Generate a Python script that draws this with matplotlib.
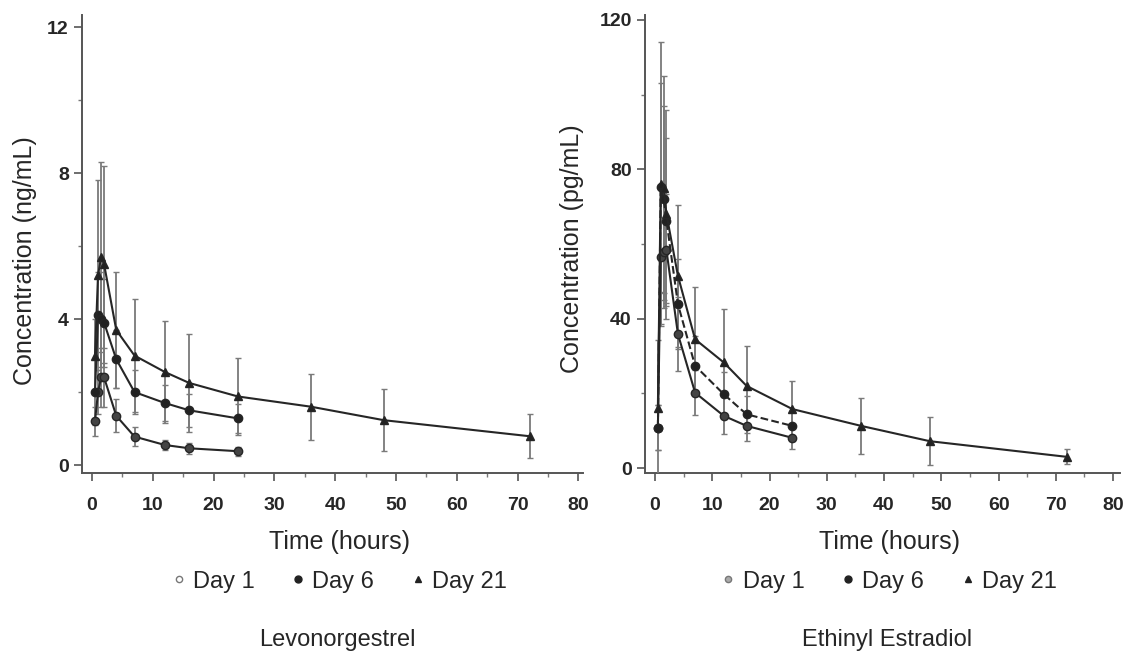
import matplotlib
matplotlib.use("Agg")
import matplotlib.pyplot as plt
from matplotlib.lines import Line2D
from matplotlib.ticker import MultipleLocator

plt.rcParams['font.family'] = ['Liberation Sans', 'DejaVu Sans']

# sampling times (hours)
t_short = [0.5, 1, 1.5, 2, 4, 7, 12, 16, 24]
t_long = [0.5, 1, 1.5, 2, 4, 7, 12, 16, 24, 36, 48, 72]

# Levonorgestrel (ng/mL)
lng_day1 = [1.2, 2.0, 2.4, 2.4, 1.35, 0.78, 0.55, 0.46, 0.38]
lng_day1_sd = [0.4, 0.6, 0.8, 0.8, 0.45, 0.25, 0.15, 0.15, 0.12]
lng_day6 = [2.0, 4.1, 4.0, 3.9, 2.9, 2.0, 1.7, 1.5, 1.28]
lng_day6_sd = [0.9, 1.2, 1.3, 1.2, 0.8, 0.6, 0.5, 0.45, 0.4]
lng_day21 = [3.0, 5.2, 5.7, 5.5, 3.7, 3.0, 2.55, 2.25, 1.88, 1.6, 1.23, 0.79]
lng_day21_sd = [1.0, 2.6, 2.6, 2.7, 1.6, 1.55, 1.4, 1.35, 1.05, 0.9, 0.85, 0.6]

# Ethinyl estradiol (pg/mL)
ee_day1 = [10.8, 56.5, 58.0, 58.3, 35.9, 20.2, 14.0, 11.3, 8.1]
ee_day1_sd = [6, 18, 15, 15, 10, 6, 5, 4, 3]
ee_day6 = [10.8, 75.2, 72.0, 66.3, 43.9, 27.4, 19.8, 14.4, 11.3]
ee_day6_sd = [6, 28, 25, 22, 12, 8, 6, 5, 4]
ee_day21 = [16.2, 76.0, 75.0, 68.0, 51.5, 34.5, 28.3, 22.0, 15.8, 11.3, 7.2, 3.0]
ee_day21_sd = [18, 38, 30, 28, 19, 14, 14.4, 10.7, 7.5, 7.5, 6.5, 2]

legend_labels = ['Day 1', 'Day 6', 'Day 21']

fig = plt.figure(figsize=(11.29, 6.58), dpi=100)
ax1 = fig.add_axes([0.0726, 0.281, 0.4438, 0.696])
ax2 = fig.add_axes([0.5713, 0.281, 0.4207, 0.696])

LC = '#262626'
EC = '#7a7a7a'
TC = '#262626'

def draw(ax, series, xlim, ylim, ystep, ylabel, ylab_pos, day1_face, cx, title):
	for t, y, sd, mk, mfc, ls in series:
		ax.errorbar(t, y, yerr=sd, color=LC, ecolor=EC, elinewidth=1.3, capsize=2,
			capthick=1, lw=1.5, ls=ls, marker=mk, ms=6, mfc=mfc, mec=LC, zorder=3)
	ax.set_xlim(*xlim)
	ax.set_ylim(*ylim)
	ax.xaxis.set_major_locator(MultipleLocator(10))
	ax.xaxis.set_minor_locator(MultipleLocator(5))
	ax.yaxis.set_major_locator(MultipleLocator(ystep))
	ax.yaxis.set_minor_locator(MultipleLocator(ystep / 2))
	for s in ['top', 'right']:
		ax.spines[s].set_visible(False)
	for s in ['left', 'bottom']:
		ax.spines[s].set_color('#555555')
		ax.spines[s].set_linewidth(1.4)
	ax.tick_params(which='major', length=6, width=1.2, colors='#555555', labelsize=14, labelcolor=TC)
	ax.tick_params(axis='x', which='major', pad=11)
	ax.tick_params(which='minor', length=3, width=1, colors='#777777')
	for lab in ax.get_xticklabels() + ax.get_yticklabels():
		lab.set_fontweight('bold')
	ax.set_ylabel(ylabel, fontsize=18, color=TC)
	ax.yaxis.set_label_coords(*ylab_pos)

	# x label, legend and panel name placed below the axes
	fig.text(cx, 0.176, 'Time (hours)', ha='center', va='center', fontsize=18, color=TC)
	handles = [
		Line2D([], [], ls='none', marker='o', ms=4.5, mfc=day1_face, mec='#777777'),
		Line2D([], [], ls='none', marker='o', ms=5, mfc='#222222', mec='#222222'),
		Line2D([], [], ls='none', marker='^', ms=4.5, mfc='#222222', mec='#222222'),
	]
	fig.legend(handles, legend_labels, ncol=3, loc='center', bbox_to_anchor=(cx, 0.116),
		frameon=False, fontsize=17, handlelength=0.5, handletextpad=0.35,
		columnspacing=1.6, labelcolor=TC)
	fig.text(cx - 0.002, 0.028, title, ha='center', va='center', fontsize=17, color=TC)

draw(ax1, [
	(t_short, lng_day1, lng_day1_sd, 'o', '#444444', '-'),
	(t_short, lng_day6, lng_day6_sd, 'o', '#222222', '-'),
	(t_long, lng_day21, lng_day21_sd, '^', '#222222', '-'),
], (-1.64, 80.75), (-0.22, 12.33), 4, 'Concentration (ng/mL)', (-0.09, 0.465),
	'white', 0.301, 'Levonorgestrel')

draw(ax2, [
	(t_short, ee_day1, ee_day1_sd, 'o', '#444444', '-'),
	(t_short, ee_day6, ee_day6_sd, 'o', '#222222', '--'),
	(t_long, ee_day21, ee_day21_sd, '^', '#222222', '-'),
], (-1.75, 81.2), (-1.34, 121.3), 40, 'Concentration (pg/mL)', (-0.128, 0.49),
	'#aaaaaa', 0.788, 'Ethinyl Estradiol')

fig.savefig('out.png', dpi=100)
